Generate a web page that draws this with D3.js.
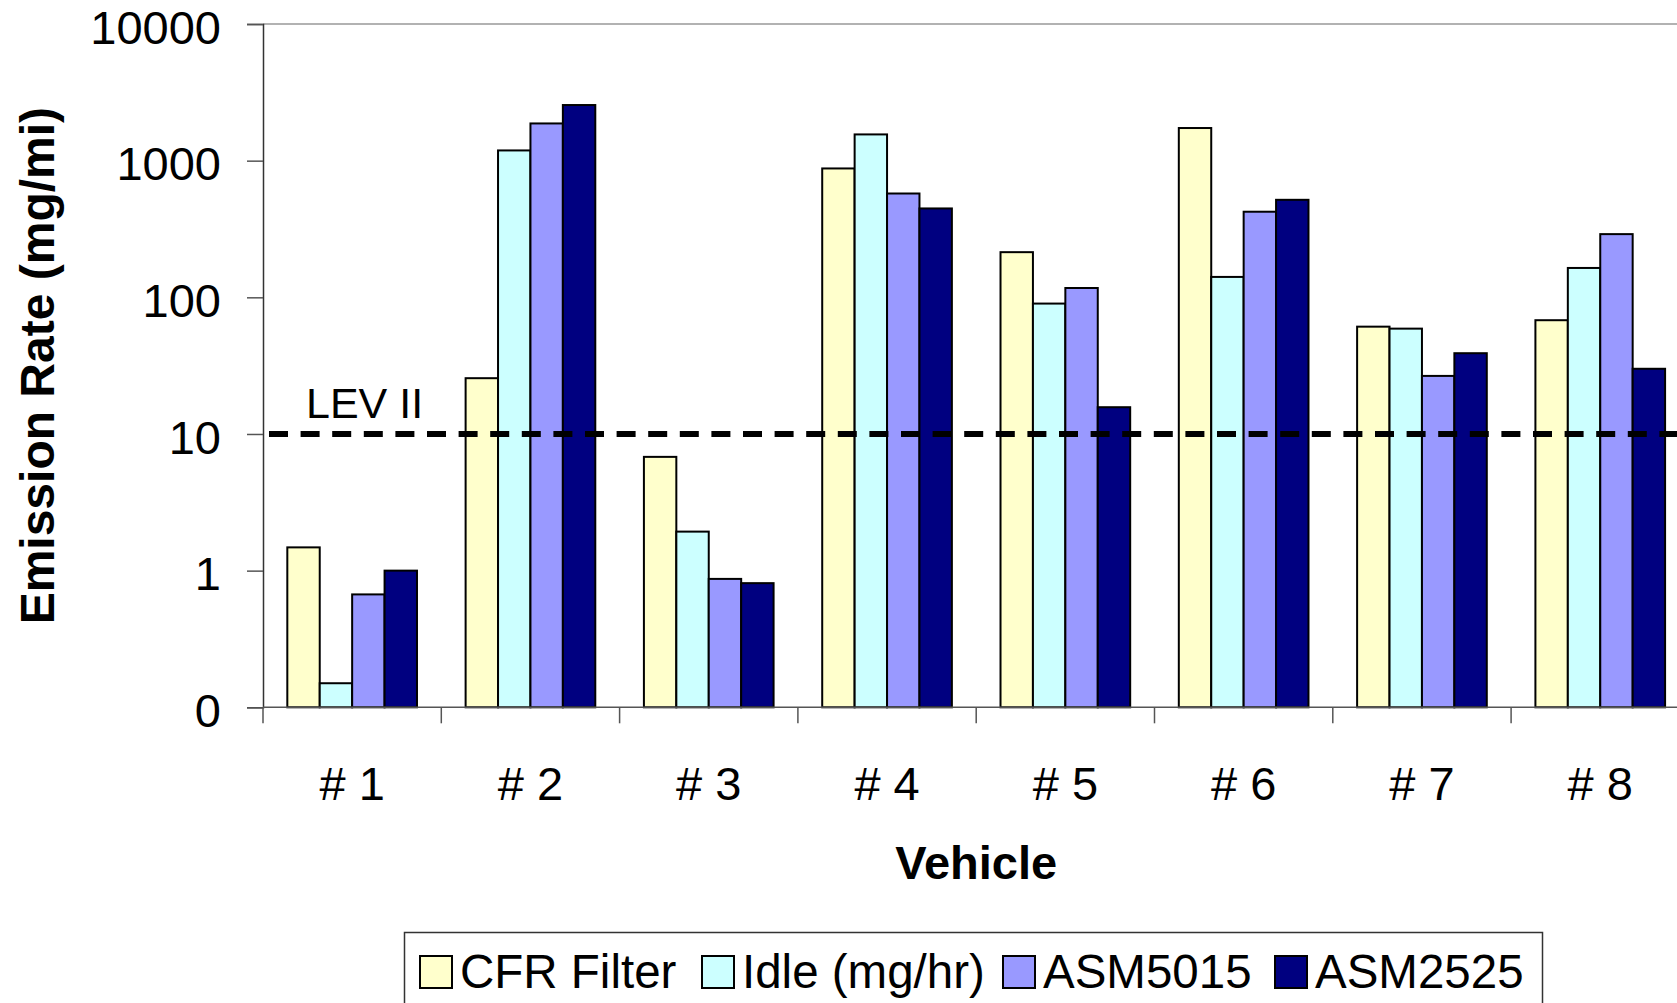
<!DOCTYPE html>
<html>
<head>
<meta charset="utf-8">
<script src="https://cdn.jsdelivr.net/npm/d3@7"></script>
<style>
  body { margin: 0; background: #fff; }
  text { font-family: Arial, "Liberation Sans", sans-serif; }
</style>
</head>
<body>
<div id="chart"></div>
<script>
// data (log scale, mg/mi)
const vehicles = ["# 1", "# 2", "# 3", "# 4", "# 5", "# 6", "# 7", "# 8"];
const seriesNames = ["CFR Filter", "Idle (mg/hr)", "ASM5015", "ASM2525"];
const seriesColors = ["#ffffcc", "#ccffff", "#9999ff", "#000080"];
const cfrFilter = [1.48, 25.6, 6.8, 877, 214, 1733, 61, 68];
const idle      = [0.15, 1188, 1.93, 1556, 90, 141, 59, 164];
const asm5015   = [0.67, 1872, 0.87, 575, 117, 423, 26.6, 290];
const asm2525   = [1.0, 2553, 0.81, 447, 15.7, 517, 39, 30];
const yTicks = [0.1, 1, 10, 100, 1000, 10000];
const levII = 10;

const allSeries = [cfrFilter, idle, asm5015, asm2525];

// set the dimensions of the page
const W = 1677, H = 1003;
const plotLeft = 263, plotTop = 24, plotBottom = 707.3, step = 178.3;

const svg = d3.select("#chart")
    .append("svg")
    .attr("width", W)
    .attr("height", H);

var x0 = d3.scaleBand().domain(vehicles).range([plotLeft, plotLeft + step * vehicles.length]).padding(0);
var x1 = d3.scaleBand().domain(d3.range(seriesNames.length)).range([0, x0.bandwidth()])
    .paddingInner(0).paddingOuter(0.75);
var y = d3.scaleLog().domain([0.1, 10000]).range([plotBottom, plotTop]);

// top frame line
svg.append("line")
    .attr("x1", plotLeft).attr("x2", W)
    .attr("y1", plotTop).attr("y2", plotTop)
    .attr("stroke", "#999").attr("stroke-width", 1.5);

// bars
const groups = svg.selectAll(".grp")
    .data(vehicles)
    .enter()
    .append("g")
    .attr("class", "grp")
    .attr("transform", d => `translate(${x0(d)},0)`);

groups.selectAll("rect")
    .data((d, i) => allSeries.map((s, j) => ({j: j, v: s[i]})))
    .enter()
    .append("rect")
    .attr("x", d => x1(d.j))
    .attr("y", d => y(d.v))
    .attr("width", x1.bandwidth())
    .attr("height", d => plotBottom - y(d.v))
    .attr("fill", d => seriesColors[d.j])
    .attr("stroke", "#000")
    .attr("stroke-width", 2);

// LEV II line
svg.append("line")
    .attr("x1", plotLeft + 6).attr("x2", W)
    .attr("y1", y(levII)).attr("y2", y(levII))
    .attr("stroke", "#000")
    .attr("stroke-width", 6)
    .attr("stroke-dasharray", "19 12.6");

svg.append("text")
    .attr("x", 306)
    .attr("y", y(levII) - 16)
    .attr("font-size", "43px")
    .text("LEV II");

// Y axis
const yAxis = svg.append("g")
    .attr("transform", `translate(${plotLeft},0)`)
    .call(d3.axisLeft(y).tickValues(yTicks).tickSize(16).tickPadding(26)
        .tickFormat(d => d < 1 ? "0" : d3.format("d")(d)));
yAxis.select(".domain").attr("stroke", "#333").attr("stroke-width", 1.5);
yAxis.selectAll(".tick line").attr("stroke", "#555").attr("stroke-width", 1.5);
yAxis.selectAll("text").attr("font-size", "47px").attr("fill", "#000").attr("dy", "0.41em");

// X axis
const xAxis = svg.append("g")
    .attr("transform", `translate(0,${plotBottom})`)
    .call(d3.axisBottom(x0).tickSize(0).tickPadding(0));
xAxis.select(".domain").remove();
xAxis.append("line")
    .attr("x1", plotLeft).attr("x2", W)
    .attr("stroke", "#555").attr("stroke-width", 1.5);
xAxis.selectAll(".tick text")
    .attr("y", 93).attr("dy", 0)
    .attr("font-size", "47px").attr("fill", "#000");
xAxis.selectAll(".sep")
    .data(vehicles.concat(["end"]))
    .enter()
    .append("line")
    .attr("class", "sep")
    .attr("x1", (d, i) => plotLeft + i * x0.step())
    .attr("x2", (d, i) => plotLeft + i * x0.step())
    .attr("y1", 0).attr("y2", 16)
    .attr("stroke", "#555").attr("stroke-width", 1.5);

// axis titles
svg.append("text")
    .attr("transform", `translate(54,${(plotTop + plotBottom) / 2}) rotate(-90)`)
    .attr("text-anchor", "middle")
    .attr("font-size", "48px")
    .attr("font-weight", "bold")
    .text("Emission Rate (mg/mi)");

svg.append("text")
    .attr("x", plotLeft + step * vehicles.length / 2)
    .attr("y", 879)
    .attr("text-anchor", "middle")
    .attr("font-size", "47px")
    .attr("font-weight", "bold")
    .text("Vehicle");

// legend
const legend = svg.append("g");
legend.append("rect")
    .attr("x", 404.5).attr("y", 932.5)
    .attr("width", 1138).attr("height", 100)
    .attr("fill", "#fff").attr("stroke", "#333").attr("stroke-width", 1.5);

const legendX = [420, 702, 1003, 1275];
const items = legend.selectAll(".item")
    .data(seriesNames)
    .enter()
    .append("g")
    .attr("class", "item")
    .attr("transform", (d, i) => `translate(${legendX[i]},0)`);
items.append("rect")
    .attr("x", 0).attr("y", 956)
    .attr("width", 32).attr("height", 32)
    .attr("fill", (d, i) => seriesColors[i])
    .attr("stroke", "#000").attr("stroke-width", 2);
items.append("text")
    .attr("x", 40).attr("y", 988)
    .attr("font-size", "47.5px")
    .text(d => d);
</script>
</body>
</html>
